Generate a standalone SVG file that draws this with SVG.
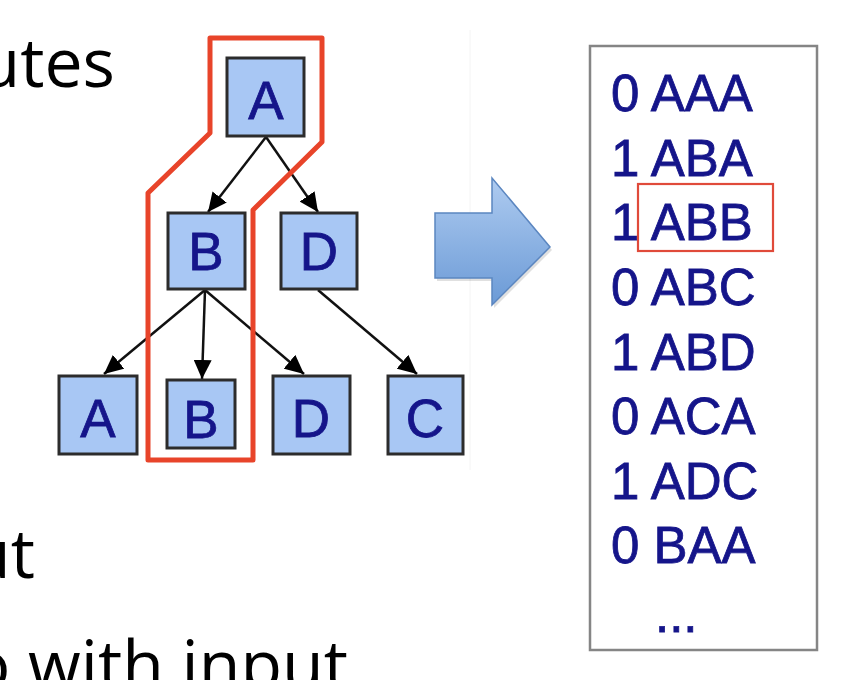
<svg xmlns="http://www.w3.org/2000/svg" width="858" height="680" viewBox="0 0 858 680">
<defs>
<style>
.slide{font-family:"Open Sans","Noto Sans","DejaVu Sans",sans-serif;font-size:68px;fill:#000}
.node rect{fill:#a8c7f4;stroke:#2c2c2c;stroke-width:3}
.node text{font-family:"Liberation Sans",Arial,sans-serif;font-size:53px;fill:#15158a;stroke:#15158a;stroke-width:0.8;text-anchor:middle}
.edge{stroke:#111;stroke-width:2.5;fill:none;marker-end:url(#ah)}
.list text{font-family:"Liberation Sans",Arial,sans-serif;font-size:51px;fill:#15158a;stroke:#15158a;stroke-width:0.8}
</style>
<marker id="ah" markerUnits="userSpaceOnUse" markerWidth="20" markerHeight="18" refX="19" refY="9" orient="auto">
<path d="M0,0 L19,9 L0,18 Z" fill="#000"/>
</marker>
<linearGradient id="bg" x1="0" y1="0" x2="0" y2="1">
<stop offset="0" stop-color="#aecbf0"/>
<stop offset="1" stop-color="#6b9ad6"/>
</linearGradient>
</defs>
<rect width="858" height="680" fill="#fff"/>

<g id="slide-text">
<text class="slide" x="115" y="87" text-anchor="end">utes</text>
<text class="slide" x="35" y="578" text-anchor="end">ut</text>
<text class="slide" x="348" y="689" text-anchor="end">o with input</text>
</g>

<line x1="470" y1="30" x2="470" y2="470" stroke="#f4f4f4" stroke-width="1"/>

<g id="connectors">
<line class="edge" x1="266" y1="137" x2="208" y2="212"/>
<line class="edge" x1="266" y1="137" x2="318" y2="212"/>
<line class="edge" x1="205" y1="290" x2="104" y2="374"/>
<line class="edge" x1="205" y1="290" x2="202" y2="379"/>
<line class="edge" x1="205" y1="290" x2="304" y2="374"/>
<line class="edge" x1="318" y1="290" x2="417" y2="374"/>
</g>

<g id="n-A-root" class="node"><rect x="227" y="58" width="77" height="78"/><text x="266" y="119">A</text></g>
<g id="n-B" class="node"><rect x="168" y="213" width="77" height="76"/><text x="206" y="270">B</text></g>
<g id="n-D" class="node"><rect x="281" y="213" width="76" height="76"/><text x="319" y="270">D</text></g>
<g id="n-A-leaf" class="node"><rect x="59" y="376" width="78" height="78"/><text x="98" y="437">A</text></g>
<g id="n-B-leaf" class="node"><rect x="167" y="380" width="68" height="68"/><text x="201" y="438">B</text></g>
<g id="n-D-leaf" class="node"><rect x="273" y="376" width="77" height="78"/><text x="311" y="437">D</text></g>
<g id="n-C-leaf" class="node"><rect x="388" y="376" width="75" height="78"/><text x="425" y="437">C</text></g>

<g id="path-highlight">
<path d="M210,38 L322,38 L322,142 L253,210 L253,460 L148,460 L148,193 L210,133 Z" fill="none" stroke="#e8442a" stroke-width="5" stroke-linejoin="round"/>
</g>

<g id="big-arrow">
<path d="M437,216 L494,216 L494,181 L552,250 L494,308 L494,281 L437,281 Z" fill="#000" opacity="0.12"/>
<path d="M435,213 L492,213 L492,178 L550,247 L492,305 L492,278 L435,278 Z" fill="url(#bg)" stroke="#5b86c0" stroke-width="1.5"/>
</g>

<g id="list" class="list">
<rect x="590" y="46" width="227" height="604" fill="#fff" stroke="#858585" stroke-width="2.5"/>
<text x="611" y="111">0 AAA</text>
<text x="611" y="176">1 ABA</text>
<text x="611" y="240">1 ABB</text>
<text x="611" y="305">0 ABC</text>
<text x="611" y="370">1 ABD</text>
<text x="611" y="434">0 ACA</text>
<text x="611" y="499">1 ADC</text>
<text x="611" y="563">0 BAA</text>
<text x="655" y="632">...</text>
<rect x="638" y="184" width="135" height="67" fill="none" stroke="#e04a3a" stroke-width="2.2"/>
</g>
</svg>
